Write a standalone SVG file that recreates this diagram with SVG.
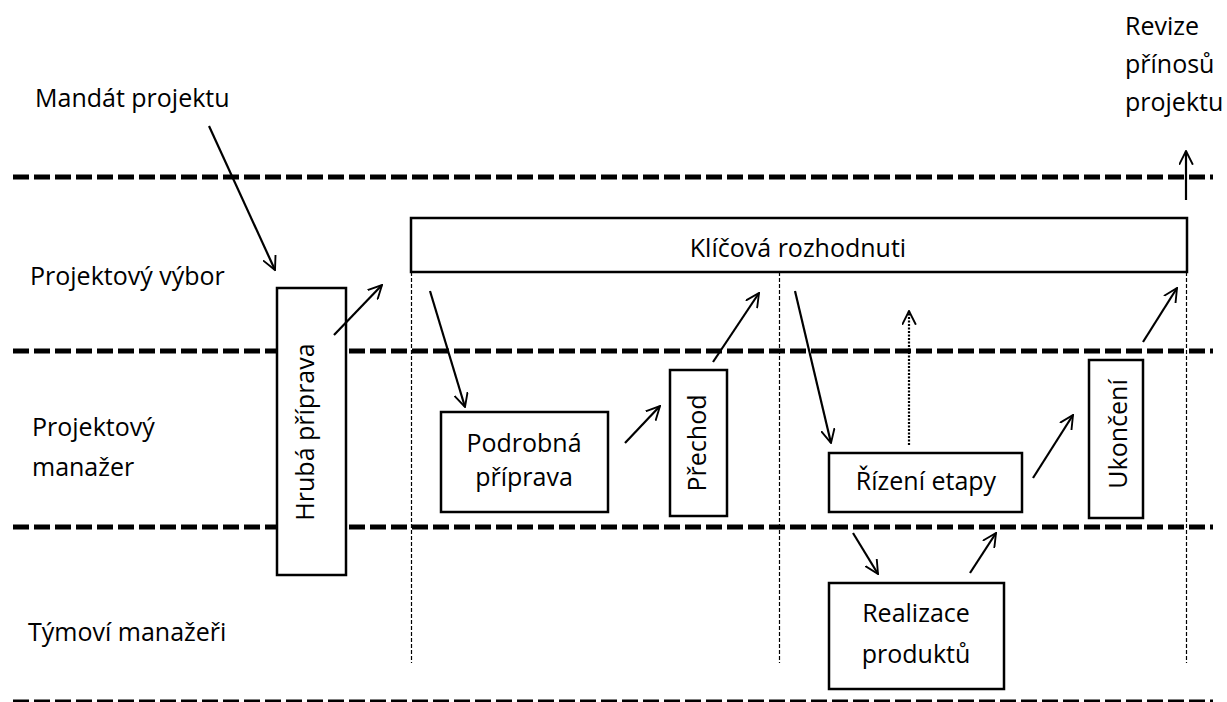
<svg xmlns="http://www.w3.org/2000/svg" width="1227" height="702" viewBox="0 0 1227 702">
  <defs>
    <style>
      .lbl { font-family: "Open Sans", "Noto Sans", "Liberation Sans", sans-serif; font-size: 25px; fill: #000; }
      .mid { text-anchor: middle; }
      .box { fill: #fff; stroke: #000; stroke-width: 2.5; }
      .lane { fill: none; stroke: #000; stroke-width: 5; stroke-dasharray: 16 5; }
      .laneShadow { fill: none; stroke: #888; stroke-width: 5; stroke-dasharray: 16 5; opacity: 0.5; filter: url(#soft); }
      .guide { fill: none; stroke: #000; stroke-width: 1.2; stroke-dasharray: 4 2; }
      .arrow { fill: none; stroke: #000; stroke-width: 2.2; marker-end: url(#open); }
      .dotted { fill: none; stroke: #000; stroke-width: 2.2; stroke-dasharray: 2 1.5; marker-end: url(#open); }
    </style>
    <marker id="open" viewBox="0 0 12 12" refX="11" refY="6" markerWidth="15" markerHeight="15" markerUnits="userSpaceOnUse" orient="auto">
      <path d="M0,0.5 L11,6 L0,11.5" fill="none" stroke="#000" stroke-width="1.5"/>
    </marker>
    <filter id="soft" x="-5%" y="-200%" width="110%" height="500%">
      <feGaussianBlur stdDeviation="2"/>
    </filter>
  </defs>

  <!-- swimlane separators -->
  <g id="lanes">
    <line class="laneShadow" x1="13" y1="182" x2="1213" y2="182"/>
    <line class="laneShadow" x1="13" y1="355" x2="1213" y2="355"/>
    <line class="laneShadow" x1="13" y1="531" x2="1213" y2="531"/>
    <line class="lane" x1="13" y1="177" x2="1213" y2="177"/>
    <line class="lane" x1="13" y1="351" x2="1213" y2="351"/>
    <line class="lane" x1="13" y1="527" x2="1213" y2="527"/>
    <line class="lane" x1="13" y1="702" x2="1213" y2="702"/>
  </g>

  <!-- phase boundaries -->
  <g id="guides">
    <line class="guide" x1="411.5" y1="272" x2="411.5" y2="663"/>
    <line class="guide" x1="779.5" y1="272" x2="779.5" y2="663"/>
    <line class="guide" x1="1186.5" y1="272" x2="1186.5" y2="663"/>
  </g>

  <!-- lane labels -->
  <g id="lane-labels">
    <text class="lbl" x="35" y="107">Mandát projektu</text>
    <text class="lbl" x="30" y="285">Projektový výbor</text>
    <text class="lbl" x="32" y="436">Projektový</text>
    <text class="lbl" x="32" y="476">manažer</text>
    <text class="lbl" x="28" y="641">Týmoví manažeři</text>
    <text class="lbl" x="1125" y="35">Revize</text>
    <text class="lbl" x="1125" y="73">přínosů</text>
    <text class="lbl" x="1125" y="111">projektu</text>
  </g>

  <g id="n-klicova">
    <rect class="box" x="411" y="218" width="776" height="54"/>
    <text class="lbl mid" x="798" y="257">Klíčová rozhodnuti</text>
  </g>

  <g id="n-hruba">
    <rect class="box" x="277" y="288" width="69" height="287"/>
    <text class="lbl mid" transform="translate(314 432) rotate(-90)">Hrubá příprava</text>
  </g>

  <g id="n-podrobna">
    <rect class="box" x="441" y="412" width="167" height="100"/>
    <text class="lbl mid" x="524" y="452">Podrobná</text>
    <text class="lbl mid" x="524" y="486">příprava</text>
  </g>

  <g id="n-prechod">
    <rect class="box" x="670" y="370" width="57" height="146"/>
    <text class="lbl mid" transform="translate(706 443) rotate(-90)">Přechod</text>
  </g>

  <g id="n-rizeni">
    <rect class="box" x="829" y="453" width="193" height="59"/>
    <text class="lbl mid" x="926" y="490">Řízení etapy</text>
  </g>

  <g id="n-ukonceni">
    <rect class="box" x="1089" y="360" width="54" height="158"/>
    <text class="lbl mid" transform="translate(1127 434) rotate(-90)">Ukončení</text>
  </g>

  <g id="n-realizace">
    <rect class="box" x="829" y="583" width="175" height="106"/>
    <text class="lbl mid" x="916" y="622">Realizace</text>
    <text class="lbl mid" x="916" y="663">produktů</text>
  </g>

  <!-- flow connectors -->
  <g id="connectors">
    <line class="arrow" x1="209" y1="126" x2="275" y2="270"/>
    <line class="arrow" x1="334" y1="335" x2="382" y2="285"/>
    <line class="arrow" x1="430" y1="291" x2="465" y2="407"/>
    <line class="arrow" x1="625" y1="443" x2="660" y2="406"/>
    <line class="arrow" x1="713" y1="362" x2="759" y2="293"/>
    <line class="arrow" x1="795" y1="291" x2="831" y2="443"/>
    <line class="dotted" x1="909" y1="445" x2="909" y2="311"/>
    <line class="arrow" x1="1033" y1="478" x2="1073" y2="415"/>
    <line class="arrow" x1="1143" y1="342" x2="1177" y2="288"/>
    <line class="arrow" x1="853" y1="533" x2="878" y2="574"/>
    <line class="arrow" x1="970" y1="573" x2="996" y2="533"/>
    <line class="arrow" x1="1186" y1="200" x2="1186" y2="151"/>
  </g>
</svg>
